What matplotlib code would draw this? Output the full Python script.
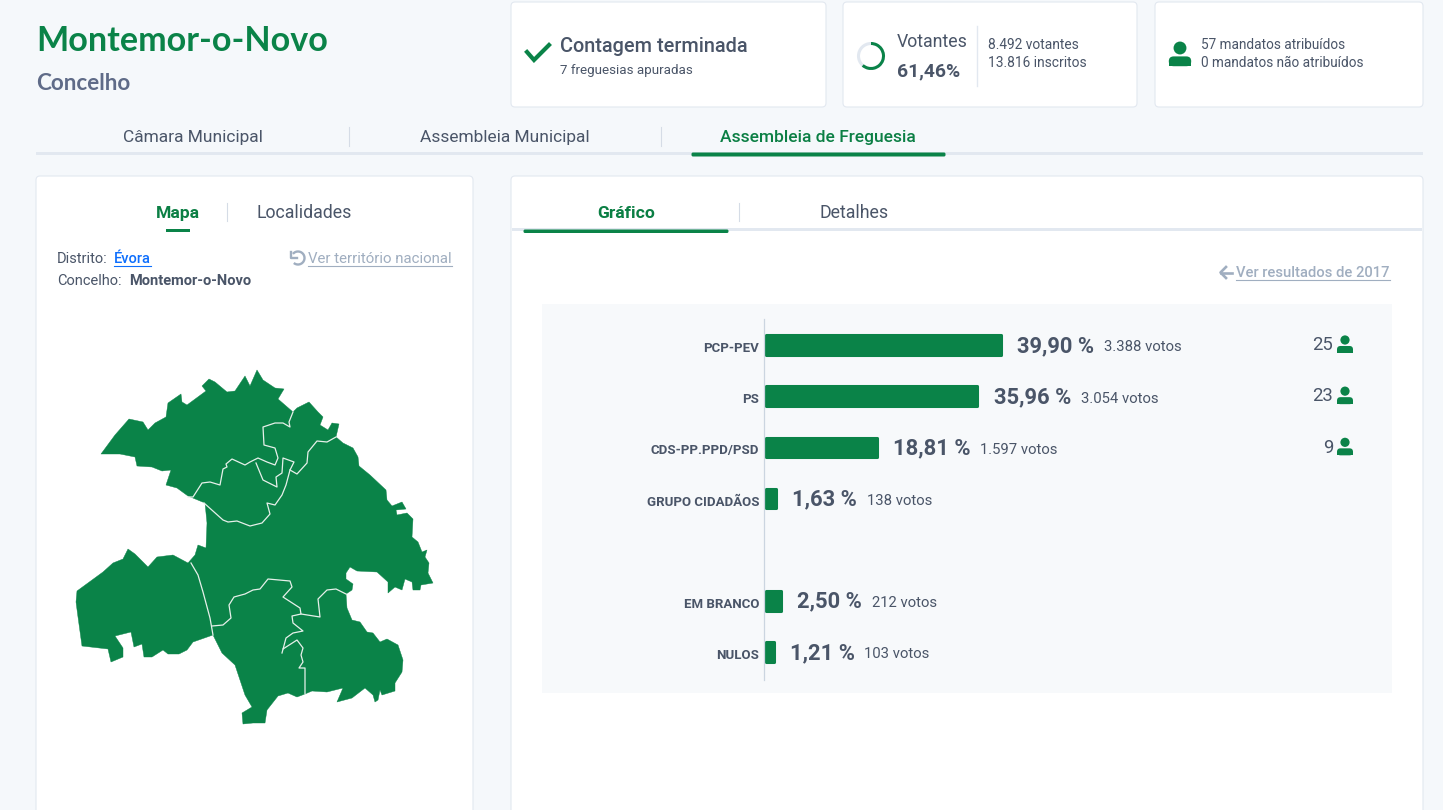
import matplotlib
matplotlib.use("Agg")
import matplotlib.pyplot as plt
from matplotlib.patches import FancyBboxPatch, Rectangle, Polygon, Circle, Wedge, Arc
from matplotlib.transforms import ScaledTranslation

plt.rcParams['font.family'] = ['Roboto', 'DejaVu Sans']

GREEN = '#0a8348'
DARK = '#4a5568'
GREY = '#a0aec0'
LINE = '#e2e8f0'

parties = ['PCP-PEV', 'PS', 'CDS-PP.PPD/PSD', 'GRUPO CIDADÃOS', 'EM BRANCO', 'NULOS']
rows = [0, 1, 2, 3, 5, 6]
percent = [39.90, 35.96, 18.81, 1.63, 2.50, 1.21]
percent_labels = ['39,90 %', '35,96 %', '18,81 %', '1,63 %', '2,50 %', '1,21 %']
votes = ['3.388 votos', '3.054 votos', '1.597 votos', '138 votos', '212 votos', '103 votos']
seats = [25, 23, 9]

# map outline and parish borders (pixels)
outline = [(101,454),(115,435),(129,419),(143,422),(148,430),(155,423),(166,417),(168,403),(181,394),
    (182,402),(187,405),(206,391),(202,386),(209,379),(215,382),(227,392),(235,391),(245,376),(250,386),
    (257,370),(263,380),(275,388),(284,389),(278,399),(293,412),(297,408),(309,402),(318,412),(323,417),
    (320,425),(328,430),(332,423),(339,424),(336,437),(343,443),(353,448),(358,457),(359,466),(370,475),
    (386,490),(387,500),(392,506),(402,502),(406,509),(396,510),(397,515),(407,513),(413,519),(412,537),
    (418,542),(422,552),(427,550),(425,557),(429,563),(428,573),(433,583),(421,585),(420,590),(413,590),
    (412,582),(405,579),(402,590),(395,587),(388,593),(388,582),(377,572),(357,571),(350,567),(346,573),
    (346,579),(353,584),(352,590),(346,594),(347,608),(352,620),(360,622),(367,632),(373,633),(380,642),
    (387,639),(398,645),(403,660),(402,672),(395,683),(395,691),(382,695),(380,690),(378,700),(375,702),
    (373,695),(365,688),(352,698),(337,702),(343,688),(327,692),(312,691),(305,694),(297,697),(288,693),
    (278,696),(267,710),(265,723),(253,723),(243,724),(242,713),(252,707),(245,695),(235,665),(222,653),
    (213,635),(193,642),(187,650),(179,654),(168,654),(163,650),(152,657),(144,657),(142,644),(134,647),
    (131,632),(115,636),(123,648),(123,657),(111,662),(108,649),(82,646),(78,617),(76,602),(77,591),
    (103,572),(113,563),(123,559),(128,549),(135,554),(148,567),(157,557),(173,555),(188,563),(195,555),
    (198,545),(206,548),(207,523),(205,503),(188,496),(177,488),(166,485),(171,470),(162,471),(152,467),
    (137,466),(135,457),(120,454)]
borders = [
    [(188,497),(193,497),(202,483),(210,482),(220,485),(223,469),(227,467),(226,464),(232,459),(245,465),
     (250,462),(258,458),(267,462),(275,465),(278,458),(275,448),(264,445),(263,427),(275,423),(283,423),
     (290,427),(289,422),(293,412)],
    [(256,463),(263,480),(277,487),(276,477),(282,473),(283,458),(294,462),(290,470),(297,474),(307,463),
     (308,452),(317,441),(327,442),(336,437)],
    [(290,470),(286,485),(282,495),(275,505),(267,503),(270,514),(262,523),(250,526),(237,521),(228,522),
     (223,520),(204,503)],
    [(191,563),(198,575),(203,592),(210,618),(213,635)],
    [(212,626),(223,625),(231,618),(229,605),(234,597),(245,594),(253,590),(260,589),(268,579),(290,581),
     (292,587),(283,597),(300,608),(301,614),(292,616),(293,623),(303,631),(293,633),(286,638),(282,653)],
    [(301,614),(320,617),(318,599),(327,590),(336,589),(346,594)],
    [(283,649),(297,640),(303,648),(301,655),(303,662),(299,668),(305,668),(305,694)],
]


def card(ax, x0, y0, x1, y1, color='white', edge=LINE):
    ax.add_patch(FancyBboxPatch((x0 + 4, y0 + 4), x1 - x0 - 8, y1 - y0 - 8,
                                boxstyle='round,pad=4,rounding_size=4',
                                fc=color, ec=edge, lw=0.8, zorder=1))


def person(ax, cx, cy, scale=1.0):
    # head and shoulders icon, cy is the middle of the row
    ax.add_patch(Circle((cx, cy - 5 * scale), 4.6 * scale, fc=GREEN, ec='none', zorder=3))
    r = 3.5 * scale
    ax.add_patch(FancyBboxPatch((cx - 8 * scale + r, cy + 1 * scale + r), 16 * scale - 2 * r, 7 * scale - 2 * r + 0.01,
                                boxstyle=f'round,pad={r},rounding_size={r}',
                                fc=GREEN, ec='none', zorder=3))
    # flat bottom
    ax.add_patch(Rectangle((cx - 7.7 * scale, cy + 4.5 * scale), 15.4 * scale, 3.5 * scale,
                           fc=GREEN, ec='none', zorder=3))


def rect(ax, x0, y0, x1, y1, color):
    ax.add_patch(Rectangle((x0, y0), x1 - x0, y1 - y0, fc=color, ec='none', zorder=2))


def label(ax, x, y, s, **kw):
    # Roboto sits a bit high with va=center
    kw.setdefault('color', DARK)
    kw.setdefault('va', 'center')
    return ax.text(x, y + 1.3, s, **kw)


fig = plt.figure(figsize=(14.43, 8.10), dpi=100, facecolor='#f5f8fb')
ax = fig.add_axes([0, 0, 1, 1])
ax.set_xlim(0, 1443)
ax.set_ylim(810, 0)
ax.axis('off')

# header
ax.text(36, 41, 'Montemor-o-Novo', fontsize=24.6, color=GREEN, family='Lato', weight='bold', va='center')
ax.text(36, 84, 'Concelho', fontsize=16.2, color='#5f6b88', family='Lato', weight='bold', va='center')

card(ax, 511, 2, 826, 107)
card(ax, 843, 2, 1137, 107)
card(ax, 1155, 2, 1423, 107)

ax.plot([527, 534, 549], [52, 60, 45], color=GREEN, lw=3, solid_joinstyle='miter', zorder=3)
label(ax, 560, 45, 'Contagem terminada', fontsize=14.3, weight='medium')
label(ax, 560, 69, '7 freguesias apuradas', fontsize=9.6)

ax.add_patch(Circle((871, 56), 12.5, fc='none', ec=LINE, lw=2.2, zorder=3))
ax.add_patch(Wedge((871, 56), 14, -90, -90 + 61.46 * 3.6, width=3, fc=GREEN, ec='none', zorder=4))
label(ax, 897, 41, 'Votantes', fontsize=12.8)
label(ax, 897, 70, '61,46%', fontsize=13.9, weight='bold')
ax.plot([977, 977], [26, 86], color=LINE, lw=1, zorder=3)
label(ax, 988, 44, '8.492 votantes', fontsize=9.9)
label(ax, 988, 62, '13.816 inscritos', fontsize=9.9)

person(ax, 1180, 55, 1.4)
label(ax, 1201, 44, '57 mandatos atribuídos', fontsize=9.8)
label(ax, 1201, 62, '0 mandatos não atribuídos', fontsize=9.8)

# main tabs
label(ax, 193, 136, 'Câmara Municipal', fontsize=12.55, ha='center')
label(ax, 505, 136, 'Assembleia Municipal', fontsize=12.55, ha='center')
label(ax, 818, 136, 'Assembleia de Freguesia', fontsize=12.55, color='#0b7f44', weight='medium', ha='center')
for x in [349, 661]:
    ax.plot([x, x], [127, 146], color='#d5dce6', lw=0.8, zorder=2)
rect(ax, 36, 152, 1423, 155, LINE)
ax.add_patch(FancyBboxPatch((693, 154), 251, 1, boxstyle='round,pad=1.5,rounding_size=1.5', fc=GREEN, ec='none', zorder=3))

# left panel
card(ax, 36, 176, 473, 830)
label(ax, 178, 212, 'Mapa', fontsize=12.6, color='#0b7f44', weight='bold', ha='center')
ax.plot([227, 227], [203, 221], color='#d5dce6', lw=0.8, zorder=2)
label(ax, 304, 212, 'Localidades', fontsize=12.8, ha='center')
rect(ax, 166, 229, 190, 232, GREEN)
label(ax, 57, 258, 'Distrito:', fontsize=10.5)
label(ax, 114, 258, 'Évora', fontsize=10.5, color='#0d6efd', weight='medium')
ax.plot([114, 151], [265.5, 265.5], color='#0d6efd', lw=0.8, zorder=3)
label(ax, 57, 280, 'Concelho:', fontsize=10.5)
label(ax, 129, 280, 'Montemor-o-Novo', fontsize=10.5, weight='bold')
label(ax, 308, 258, 'Ver território nacional', fontsize=10.8, color=GREY)
ax.plot([308, 452], [265.5, 265.5], color=GREY, lw=0.8, zorder=3)
ax.add_patch(Arc((298, 258), 13, 13, theta1=-141, theta2=130, color=GREY, lw=1.7, zorder=3))
ax.plot([291, 291, 296.5], [251.5, 257.5, 257.5], color=GREY, lw=1.7, zorder=3)

ax.add_patch(Polygon(outline, closed=True, fc=GREEN, ec=GREEN, lw=0.3, joinstyle='round', zorder=3))
for line in borders:
    ax.plot([p[0] for p in line], [p[1] for p in line], color='#e6f0ea', lw=0.9, zorder=4)

# right panel
card(ax, 511, 176, 1423, 830)
label(ax, 626, 212, 'Gráfico', fontsize=12.6, color='#0b7f44', weight='bold', ha='center')
ax.plot([739, 739], [203, 221], color='#d5dce6', lw=0.8, zorder=2)
label(ax, 854, 212, 'Detalhes', fontsize=12.8, ha='center')
rect(ax, 512, 228, 1422, 231, LINE)
ax.add_patch(FancyBboxPatch((525, 231), 202, 0.5, boxstyle='round,pad=1.5,rounding_size=1.5', fc=GREEN, ec='none', zorder=3))
label(ax, 1236, 272, 'Ver resultados de 2017', fontsize=10.6, color=GREY, weight='medium')
ax.plot([1236, 1390], [279.5, 279.5], color=GREY, lw=0.8, zorder=3)
ax.plot([1232, 1221], [272.5, 272.5], color=GREY, lw=1.9, zorder=3)
ax.plot([1226, 1220.5, 1226], [267, 272.5, 278], color=GREY, lw=1.9, zorder=3)
rect(ax, 542, 304, 1392, 693, '#f7f9fb')

# bar chart, own axes: x in percent, y in rows
left, right, top, bottom = 764, 1392, 319, 680
px_per_pct = 5.87
zero_px = 2.4
bar_ax = fig.add_axes([left / 1443, 1 - bottom / 810, (right - left) / 1443, (bottom - top) / 810])
bar_ax.patch.set_alpha(0)
bar_ax.set_xlim(-zero_px / px_per_pct, (right - left - zero_px) / px_per_pct)
bar_ax.set_ylim(6.0 + (bottom - 652) / 51.2, -(345 - top) / 51.2)
bar_ax.barh(rows, percent, height=0.38, color=GREEN, edgecolor=GREEN, lw=2.2, joinstyle='round', zorder=2)
for s in ['top', 'right', 'bottom']:
    bar_ax.spines[s].set_visible(False)
bar_ax.spines['left'].set_color('#cbd5e0')
bar_ax.spines['left'].set_linewidth(0.9)
bar_ax.set_xticks([])
bar_ax.set_yticks(rows, parties, fontsize=9.5, color=DARK, weight='bold')
bar_ax.tick_params(axis='y', length=0, pad=3.5)
for t in bar_ax.get_yticklabels():
    t.set_transform(t.get_transform() + ScaledTranslation(0, -1.5 / 72, fig.dpi_scale_trans))

for row, val, lab, vote in zip(rows, percent, percent_labels, votes):
    pct = bar_ax.annotate(lab, xy=(val, row), xytext=(11.7, -0.7), textcoords='offset points',
                          fontsize=15.8, color=DARK, weight='bold', va='center')
    bar_ax.annotate(vote, xy=(1, 0.5), xycoords=pct, xytext=(7, -1), textcoords='offset points',
                    fontsize=10.7, color=DARK, va='center')

for row, seat in zip(rows, seats):
    y = bar_ax.transData.transform((0, row))[1]
    y = ax.transData.inverted().transform((0, y))[1]
    label(ax, 1333, y - 1, str(seat), fontsize=13.3, ha='right', zorder=5)
    person(ax, 1345, y, 1.0)

fig.savefig('out.png', dpi=100, facecolor=fig.get_facecolor())
